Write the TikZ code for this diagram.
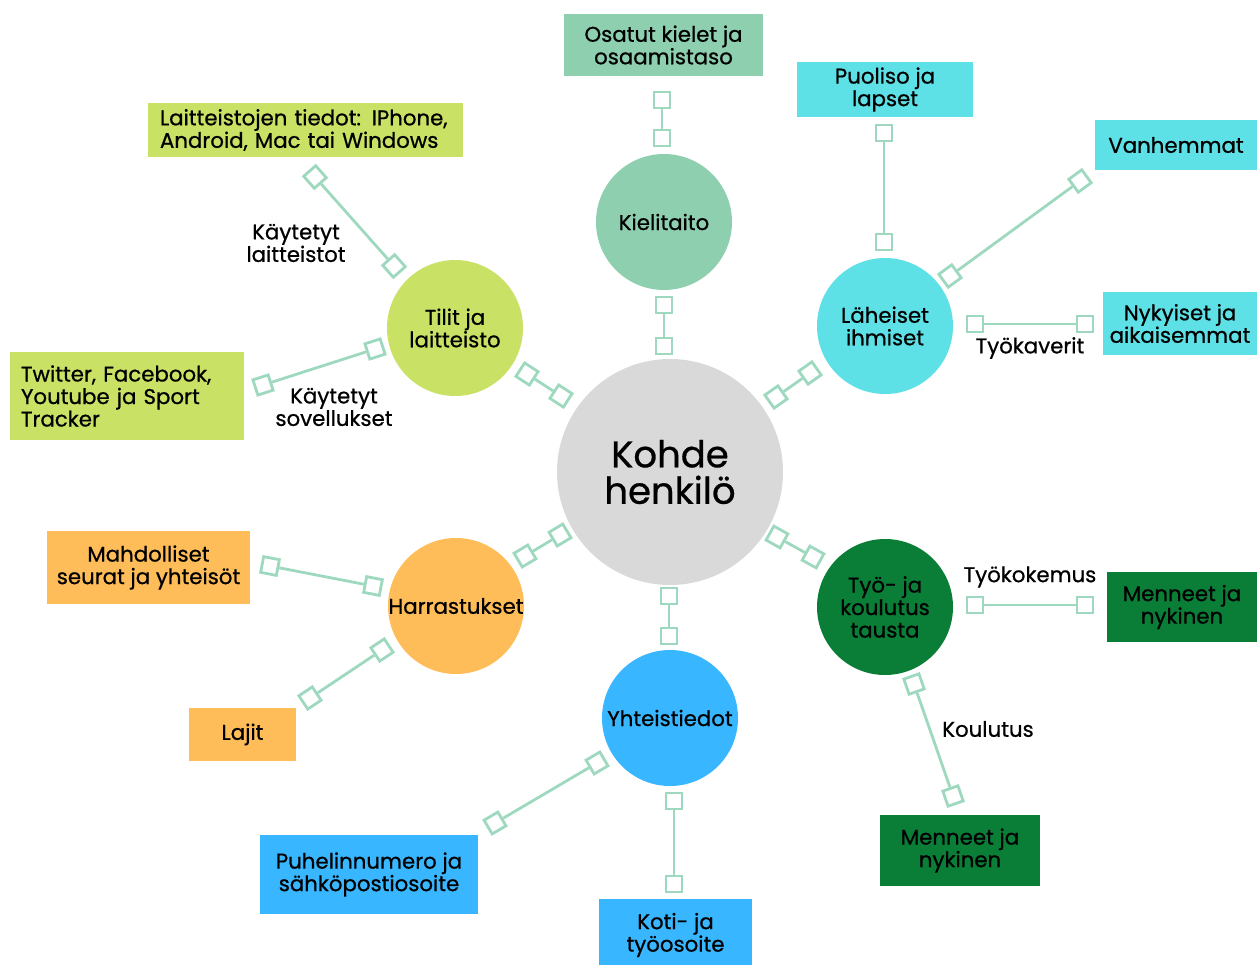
\documentclass[tikz,border=0pt]{standalone}
\usepackage{fontspec}
\setmainfont{Poppins}[FakeBold=0.7]
\usetikzlibrary{calc}

\definecolor{mintc}{HTML}{8ECFB0}
\definecolor{limec}{HTML}{C9E165}
\definecolor{cyanc}{HTML}{5DE0E6}
\definecolor{orangec}{HTML}{FFBD59}
\definecolor{bluec}{HTML}{38B6FF}
\definecolor{darkgreenc}{HTML}{0A7E37}
\definecolor{greyc}{HTML}{D9D9D9}
\definecolor{linkc}{HTML}{9ED9BF}

\tikzset{
  txt/.style={font=\fontsize{21.3}{22.5}\selectfont, text=black, align=center, inner sep=0pt},
  topic/.style={circle, minimum size=136pt, inner sep=0pt, draw=none, txt},
  leaf/.style={rectangle, inner sep=0pt, draw=none, txt},
  sq/.style={rectangle, draw=linkc, line width=2.8pt, fill=white, minimum size=16pt, inner sep=0pt},
  link/.style={draw=linkc, line width=2.8pt},
}

% two square end markers, turned along the line, and the line between them
\newcommand\conn[3]{%
  \path let \p1=($(#3)-(#2)$), \n1={atan2(\y1,\x1)} in
    node[sq,rotate=\n1] (#1a) at (#2) {}
    node[sq,rotate=\n1] (#1b) at (#3) {};
  \draw[link] (#1a) -- (#1b);
}

\begin{document}
\begin{tikzpicture}[x=1pt,y=-1pt]
\useasboundingbox (0,0) rectangle (1257,964);

% central person
\node[circle, fill=greyc, minimum size=226pt, inner sep=0pt,
      font=\fontsize{37}{36.5}\selectfont, align=center] (center) at (670,472) {Kohde\\henkilö};

% topic circles
\node[topic, fill=mintc]      (kieli)   at (664,222) {Kielitaito};
\node[topic, fill=limec]      (tilit)   at (455,328) {Tilit ja\\laitteisto};
\node[topic, fill=cyanc]      (laheiset) at (885,326) {Läheiset\\ihmiset};
\node[topic, fill=orangec]    (harr)    at (456,606) {Harrastukset};
\node[topic, fill=darkgreenc] (tyo)     at (885,607) {Työ- ja\\koulutus\\tausta};
\node[topic, fill=bluec]      (yht)     at (670,718) {Yhteistiedot};

% leaf boxes
\node[leaf, fill=mintc, minimum width=199pt, minimum height=62pt] (osatut) at (663.5,45) {Osatut kielet ja\\osaamistaso};
\node[leaf, fill=cyanc, minimum width=176pt, minimum height=55pt] (puoliso) at (885,89.5) {Puoliso ja\\lapset};
\node[leaf, fill=cyanc, minimum width=162pt, minimum height=50pt] (vanh) at (1176,145) {Vanhemmat};
\node[leaf, fill=cyanc, minimum width=154pt, minimum height=63pt] (nyky) at (1180,323.5) {Nykyiset ja\\aikaisemmat};
\node[leaf, fill=limec, minimum width=315pt, minimum height=54pt, align=left, text width=291pt] (laitt) at (305.5,130) {Laitteistojen tiedot: IPhone,\\Android, Mac tai Windows};
\node[leaf, fill=limec, minimum width=234pt, minimum height=88pt, align=left, text width=212pt] (twitter) at (127,396) {Twitter, Facebook,\\Youtube ja Sport\\Tracker};
\node[leaf, fill=orangec, minimum width=203pt, minimum height=73pt] (mahd) at (148.5,567.5) {Mahdolliset\\seurat ja yhteisöt};
\node[leaf, fill=orangec, minimum width=107pt, minimum height=53pt] (lajit) at (242.5,734.5) {Lajit};
\node[leaf, fill=bluec, minimum width=218pt, minimum height=79pt] (puhelin) at (369,874.5) {Puhelinnumero ja\\sähköpostiosoite};
\node[leaf, fill=bluec, minimum width=153pt, minimum height=72pt] (koti) at (675.5,935) {Koti- ja\\työosoite};
\node[leaf, fill=darkgreenc, minimum width=150pt, minimum height=70pt] (menR) at (1182,607) {Menneet ja\\nykinen};
\node[leaf, fill=darkgreenc, minimum width=160pt, minimum height=71pt] (menB) at (960,850.5) {Menneet ja\\nykinen};

% edge labels
\node[txt] (lblLaitt) at (296,243) {Käytetyt\\laitteistot};
\node[txt] (lblSov) at (334,407) {Käytetyt\\sovellukset};
\node[txt] (lblKaver) at (1030,348) {Työkaverit};
\node[txt] (lblKokem) at (1030,577) {Työkokemus};
\node[txt] (lblKoul) at (988,729) {Koulutus};

% connectors
\conn{c1}{664,305}{664,346}
\conn{c2}{662,100}{662,138}
\conn{c3}{527,374}{561,396}
\conn{c4}{315,177}{394,266}
\conn{c5}{263,385}{375,349}
\conn{c6}{776,397}{810,373}
\conn{c7}{884,133}{884,242}
\conn{c8}{1080,181}{950,276}
\conn{c9}{975,324}{1085,324}
\conn{c10}{525,556}{560,535}
\conn{c11}{270,566}{373,586}
\conn{c12}{310,698}{382,650}
\conn{c13}{669,596}{669,636}
\conn{c14}{674,801}{674,884}
\conn{c15}{597,763}{495,823}
\conn{c16}{777,537}{813,557}
\conn{c17}{975,605}{1085,605}
\conn{c18}{914,684}{953,796}
\end{tikzpicture}
\end{document}
